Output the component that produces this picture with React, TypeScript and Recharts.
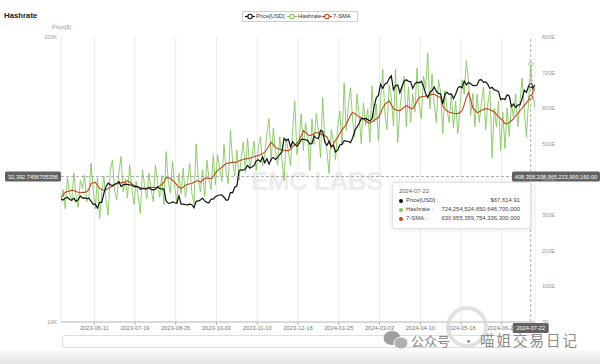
import React from 'react';
import { LineChart, Line, XAxis, YAxis, CartesianGrid, ReferenceLine, ReferenceDot } from 'recharts';

// ---------- data (2-day steps starting at startDate) ----------
const startDate = '2023-05-11';
const stepDays = 2;

// BTC price, thousands of USD
const priceK = [
  26.98, 26.8, 27.2, 27.4, 26.9, 26.75, 27.2, 26.5, 26.85, 27.7, 27.2,
  27.25, 27.1, 27.2, 26.5, 25.85, 25.9, 25.1, 26.3, 26.3, 28.3, 29.9, 30.7, 30.3, 30.1, 30.5,
  30.6, 31.1, 29.9, 30.3, 30.4, 30.4, 30.3, 30.25, 29.85, 29.9, 29.8, 29.2, 29.4, 29.3, 29.3,
  29.7, 29.2, 29.1, 29.2, 29.8, 29.4, 29.3, 29.2, 26.6, 26.1, 26.1, 26.4, 26.2, 26.1, 27.7, 25.9,
  25.9, 25.8, 25.75, 25.9, 25.8, 25.2, 26.5, 26.6, 26.8, 27.2, 26.6, 26.3, 26.2, 27.0, 27.0,
  27.5, 27.8, 27.9, 27.95, 27.4, 26.75, 26.85, 28.5, 28.4, 29.7, 30.0, 33.9, 34.2, 34.1, 34.5,
  35.4, 34.7, 35.0, 35.4, 36.7, 37.1, 36.5, 37.9, 36.2, 37.4, 35.8, 37.3, 37.8, 37.2, 37.8,
  38.7, 39.5, 44.1, 43.3, 43.8, 41.2, 42.9, 41.9, 41.4, 42.3, 43.7, 43.7, 43.6, 43.4, 42.1, 42.3,
  45.0, 44.2, 44.0, 47.0, 46.6, 42.8, 41.7, 43.1, 41.3, 41.7, 39.5, 40.1, 41.8, 42.0, 43.3,
  43.1, 43.0, 42.6, 44.3, 47.1, 48.3, 49.7, 51.8, 51.6, 51.8, 51.3, 50.7, 51.7, 57.0, 61.2,
  62.4, 68.3, 66.1, 68.3, 68.9, 71.5, 73.1, 65.3, 67.6, 67.9, 63.8, 67.2, 70.0, 70.8, 69.9,
  69.7, 66.0, 68.5, 69.4, 69.1, 70.0, 67.2, 63.4, 61.3, 63.8, 64.9, 66.8, 64.5, 63.4, 63.1,
  58.3, 63.0, 64.0, 62.9, 63.1, 60.8, 63.0, 66.2, 67.0, 66.3, 70.1, 67.9, 69.3, 68.5, 67.6, 67.5,
  67.8, 70.6, 70.8, 69.3, 69.6, 68.2, 66.0, 66.6, 65.2, 64.9, 64.3, 60.3, 60.8, 60.3, 62.7,
  62.1, 57.0, 58.2, 56.7, 57.7, 57.9, 60.8, 65.1, 63.9, 67.2, 67.61, 65.9, 67.9,
];

// Hashrate, EH/s
const hashrateE = [
  335, 372, 318, 405, 360, 340, 418, 352, 322, 398, 375,
  412, 338, 350, 446, 372, 318, 405, 290, 362, 410, 338, 300, 428, 455, 368,
  342, 420, 465, 365, 402, 348, 441, 378, 330, 395, 352, 305, 428, 382, 346,
  418, 372, 338, 440, 392, 350, 412, 330, 478, 395, 362, 452, 380, 335, 418, 360,
  432, 350, 395, 445, 362, 330, 500, 402, 365, 428, 352, 455, 400, 372, 468,
  385, 470, 432, 395, 498, 420, 388, 537, 452, 410, 482, 398, 462, 505, 420,
  515, 430, 462, 508, 425, 490, 520, 438, 472, 530, 571, 452, 545, 478, 440,
  520, 455, 397, 515, 480, 438, 540, 621, 470, 510, 585, 482, 560, 520, 425, 570,
  498, 585, 540, 462, 630, 512, 478, 417, 540, 505, 455, 548, 592, 500, 671,
  538, 610, 657, 565, 520, 640, 580, 500, 615, 552, 598, 505, 663, 560, 612,
  509, 622, 710, 585, 540, 665, 630, 550, 710, 504, 598, 650, 690, 548, 660,
  560, 640, 590, 713, 612, 570, 690, 655, 755, 598, 696, 612, 560, 680, 645,
  529, 650, 595, 560, 640, 545, 620, 529, 600, 680, 640, 733, 675, 580, 642, 548,
  640, 560, 615, 660, 540, 612, 650, 461, 600, 548, 620, 481, 590, 487, 600,
  520, 612, 575, 640, 548, 620, 685, 598, 520, 620, 724.25, 640, 600,
];

// 7-day SMA of hashrate, EH/s
const sma7E = [
  350, 356, 364, 366, 368, 370, 369, 366, 364, 363, 364,
  364, 366, 372, 389, 391, 392, 384, 375, 372, 370, 372, 375, 378, 381, 385,
  389, 390, 391, 392, 392, 397, 393, 388, 384, 381, 378, 377, 376, 375, 375,
  376, 378, 378, 377, 378, 382, 386, 392, 406, 405, 403, 398, 392, 385, 378, 375,
  378, 384, 386, 388, 389, 392, 395, 397, 392, 398, 403, 404, 403, 403, 408,
  418, 425, 430, 434, 440, 445, 446, 447, 448, 448, 449, 452, 455, 456, 458,
  459, 460, 462, 464, 466, 467, 470, 473, 476, 485, 495, 504, 498, 490, 487,
  485, 483, 482, 481, 481, 485, 492, 498, 501, 510, 522, 537, 532, 526, 523, 525,
  529, 532, 531, 528, 525, 523, 520, 505, 490, 500, 510, 518, 530, 540, 546,
  555, 568, 580, 588, 585, 580, 576, 574, 570, 565, 560, 558, 562, 566, 570,
  574, 586, 601, 610, 616, 621, 610, 599, 596, 594, 593, 598, 603, 607, 604,
  600, 599, 608, 620, 630, 632, 633, 634, 635, 637, 639, 640, 636, 632, 630,
  607, 598, 592, 589, 588, 586, 585, 585, 588, 593, 610, 630, 644, 625, 601, 595,
  588, 590, 594, 597, 599, 598, 596, 593, 590, 583, 576, 571, 565, 557, 556,
  560, 565, 570, 579, 586, 593, 600, 608, 615, 623, 630.66, 645, 655,
];

const xTickDates = [
  '2023-06-11', '2023-07-19', '2023-08-26', '2023-10-03', '2023-11-10', '2023-12-18',
  '2024-01-25', '2024-03-03', '2024-04-10', '2024-05-18', '2024-06-25',
];
const leftTicks = [10000, 100000];
const rightTicks = [0, 100, 200, 300, 400, 500, 600, 700, 800];

const seriesNames = ['Price[USD]', 'Hashrate', '7-SMA'];
const seriesColors = ['#111111', '#84c75c', '#c0461f'];

// crosshair / tooltip state shown in the reference
const crossDate = '2024-07-22';
const crossPrice = 32392.7456705356;
const crossPriceLabel = '32,392.7456705356';
const crossHashLabel = '408,358,208,965,223,900,160.00';
const tipPrice = 67614.91;
const tipHash = 724.25;
const tipSma = 630.66;
const tipValues = ['$67,614.91', '724,254,524,650,646,700,000', '630,655,359,754,336,300,000'];
const tipLabels = ['Price[USD] :', 'Hashrate :', '7-SMA :'];

// ---------- helpers ----------
const DAY = 86400000;
const toT = (d: string) => Date.parse(d + 'T00:00:00Z');
const fmtDate = (t: number) => new Date(t).toISOString().slice(0, 10);
const t0 = toT(startDate);

const data = priceK.map((p, i) => ({
  t: t0 + i * stepDays * DAY,
  price: p * 1000,
  hashrate: hashrateE[i],
  sma: sma7E[i],
}));
const tStart = data[0].t;
const tEnd = data[data.length - 1].t;
const xTicks = xTickDates.map(toT);
const crossT = toT(crossDate);

const FONT = '"Liberation Sans", Arial, Helvetica, sans-serif';

const HCrossLabel = (props: any) => {
  const vb = props.viewBox || {};
  const y = vb.y;
  const xl = vb.x;
  const xr = vb.x + vb.width;
  return (
    <g>
      <rect x={5} y={y - 5} width={xl - 5} height={10} rx={1.5} fill="#626262" />
      <text x={(5 + xl) / 2} y={y + 0.3} fill="#fff" fontSize={5.6} textAnchor="middle" dominantBaseline="central" fontFamily={FONT}>
        {crossPriceLabel}
      </text>
      <rect x={xr - 23} y={y - 5} width={600 - (xr - 23)} height={10} rx={1.5} fill="#626262" />
      <text x={(xr - 23 + 600) / 2} y={y + 0.3} fill="#fff" fontSize={5.6} textAnchor="middle" dominantBaseline="central" fontFamily={FONT}>
        {crossHashLabel}
      </text>
    </g>
  );
};

const VCrossLabel = (props: any) => {
  const vb = props.viewBox || {};
  const x = vb.x;
  const yb = vb.y + vb.height;
  return (
    <g>
      <rect x={x - 18} y={yb + 1} width={36} height={10} rx={1.5} fill="#626262" />
      <text x={x} y={yb + 6.3} fill="#fff" fontSize={5.6} textAnchor="middle" dominantBaseline="central" fontFamily={FONT}>
        {crossDate}
      </text>
    </g>
  );
};

const LegendIcon = ({ color }: { color: string }) => (
  <svg width={10} height={7} style={{ display: 'block' }}>
    <line x1={0} y1={3.5} x2={10} y2={3.5} stroke={color} strokeWidth={1.2} />
    <circle cx={5} cy={3.5} r={2.2} fill="#fff" stroke={color} strokeWidth={1.1} />
  </svg>
);

export default function App() {
  const legendPos = [
    { icon: 245, text: 256 },
    { icon: 287, text: 298 },
    { icon: 322, text: 333 },
  ];
  return (
    <div style={{ position: 'absolute', left: 0, top: 0, width: 600, height: 364, background: '#fff', overflow: 'hidden', fontFamily: FONT }}>
      {/* watermark behind the chart */}
      <div style={{ position: 'absolute', left: 0, top: 166, width: 634, textAlign: 'center', fontSize: 26, fontWeight: 700, color: '#ececec', letterSpacing: -0.5, lineHeight: '30px' }}>
        EMC LABS
      </div>

      {/* title */}
      <div style={{ position: 'absolute', left: 4, top: 11, fontSize: 7.8, fontWeight: 700, color: '#222' }}>Hashrate</div>
      <div style={{ position: 'absolute', left: 52, top: 24, fontSize: 5.6, color: '#999' }}>Price[$]</div>

      {/* legend */}
      <div style={{ position: 'absolute', left: 242, top: 11, width: 116, height: 11, border: '1px solid #cfcfcf', boxSizing: 'border-box', background: '#fff' }} />
      {seriesNames.map((n, i) => (
        <React.Fragment key={n}>
          <div style={{ position: 'absolute', left: legendPos[i].icon, top: 13 }}>
            <LegendIcon color={seriesColors[i]} />
          </div>
          <div style={{ position: 'absolute', left: legendPos[i].text, top: 13, fontSize: 5.8, lineHeight: '7px', color: '#333' }}>{n}</div>
        </React.Fragment>
      ))}

      {/* data zoom slider */}
      <div style={{ position: 'absolute', left: 62, top: 335, width: 474, height: 13, border: '1px solid #dedede', borderRadius: 3, boxSizing: 'border-box', background: '#fff' }} />

      {/* chart */}
      <div style={{ position: 'absolute', left: 0, top: 0 }}>
        <LineChart width={600} height={364} data={data} margin={{ top: 37, right: 0, bottom: 28, left: 0 }}>
          <CartesianGrid yAxisId="left" horizontal={false} stroke="#ececec" />
          <XAxis
            dataKey="t"
            type="number"
            domain={[tStart, tEnd]}
            ticks={xTicks}
            tickFormatter={fmtDate}
            interval={0}
            height={14}
            allowDataOverflow
            tick={{ fontSize: 5.7, fill: '#777', fontFamily: FONT }}
            axisLine={{ stroke: '#b5b5b5' }}
            tickLine={{ stroke: '#b5b5b5' }}
            tickSize={3}
            tickMargin={1}
          />
          <YAxis
            yAxisId="left"
            type="number"
            scale="log"
            domain={[10000, 100000]}
            ticks={leftTicks}
            interval={0}
            allowDataOverflow
            tickFormatter={(v: number) => `${v / 1000}K`}
            width={61}
            axisLine={false}
            tickLine={false}
            tickSize={2}
            tickMargin={2}
            tick={{ fontSize: 5.6, fill: '#9a9a9a', fontFamily: FONT }}
          />
          <YAxis
            yAxisId="right"
            orientation="right"
            type="number"
            domain={[0, 800]}
            ticks={rightTicks}
            interval={0}
            allowDataOverflow
            tickFormatter={(v: number) => `${v}E`}
            width={65}
            axisLine={false}
            tickLine={false}
            tickSize={4}
            tickMargin={3}
            tick={{ fontSize: 5.6, fill: '#9a9a9a', fontFamily: FONT }}
          />
          <Line yAxisId="right" type="linear" dataKey="hashrate" stroke={seriesColors[1]} strokeWidth={0.9} dot={false} isAnimationActive={false} />
          <Line yAxisId="right" type="linear" dataKey="sma" stroke={seriesColors[2]} strokeWidth={1.1} dot={false} isAnimationActive={false} />
          <Line yAxisId="left" type="linear" dataKey="price" stroke={seriesColors[0]} strokeWidth={1.2} dot={false} isAnimationActive={false} />
          <ReferenceLine yAxisId="left" y={crossPrice} stroke="#9a9a9a" strokeDasharray="3 2" strokeWidth={0.8} label={(p: any) => <HCrossLabel {...p} />} />
          <ReferenceLine yAxisId="left" x={crossT} stroke="#9a9a9a" strokeDasharray="3 2" strokeWidth={0.8} label={(p: any) => <VCrossLabel {...p} />} />
          <ReferenceDot yAxisId="left" x={crossT} y={tipPrice} r={1.8} fill="#fff" stroke={seriesColors[0]} strokeWidth={1} />
          <ReferenceDot yAxisId="right" x={crossT} y={tipHash} r={1.8} fill="#fff" stroke={seriesColors[1]} strokeWidth={1} />
          <ReferenceDot yAxisId="right" x={crossT} y={tipSma} r={1.8} fill="#fff" stroke={seriesColors[2]} strokeWidth={1} />
        </LineChart>
      </div>

      {/* tooltip */}
      <div style={{ position: 'absolute', left: 392, top: 182, width: 139, height: 47, background: '#fff', border: '1px solid #e2e2e2', borderRadius: 3, boxShadow: '0 0 5px rgba(0,0,0,0.12)', boxSizing: 'border-box', padding: '4px 10px 0 6px', fontSize: 5.9, lineHeight: '9px', color: '#444' }}>
        <div style={{ color: '#666' }}>{crossDate}</div>
        {tipLabels.map((l, i) => (
          <div key={l} style={{ display: 'flex', justifyContent: 'space-between', alignItems: 'center', height: 9 }}>
            <div style={{ display: 'flex', alignItems: 'center' }}>
              <span style={{ display: 'inline-block', width: 4, height: 4, borderRadius: 2, background: seriesColors[i], marginRight: 3 }} />
              <span>{l}</span>
            </div>
            <span>{tipValues[i]}</span>
          </div>
        ))}
      </div>

      {/* bottom shading and watermark */}
      <div style={{ position: 'absolute', left: 0, top: 350, width: 600, height: 14, background: 'linear-gradient(#fbfbfb, #e4e4e4)' }} />
      <svg width={600} height={364} style={{ position: 'absolute', left: 0, top: 0, pointerEvents: 'none' }}>
        <circle cx={467} cy={327} r={19} fill="none" stroke="#d9d9d9" strokeWidth={4} opacity={0.8} />
        <ellipse cx={392} cy={338} rx={8.5} ry={7} fill="#9e9e9e" />
        <ellipse cx={401} cy={343} rx={7} ry={6} fill="#b0b0b0" stroke="#fff" strokeWidth={1} />
      </svg>
      <div style={{ position: 'absolute', left: 411, top: 333, fontSize: 13, lineHeight: '15px', color: '#8a8a8a', fontFamily: '"Noto Sans CJK SC", sans-serif', whiteSpace: 'nowrap' }}>
        公众号
      </div>
      <div style={{ position: 'absolute', left: 462, top: 333, fontSize: 13, lineHeight: '15px', color: '#8a8a8a', fontFamily: '"Noto Sans CJK SC", sans-serif' }}>·</div>
      <div style={{ position: 'absolute', left: 480, top: 332, fontSize: 14.5, lineHeight: '16px', letterSpacing: 2, color: '#8a8a8a', fontFamily: '"Noto Sans CJK SC", sans-serif', whiteSpace: 'nowrap' }}>
        喵姐交易日记
      </div>
    </div>
  );
}
